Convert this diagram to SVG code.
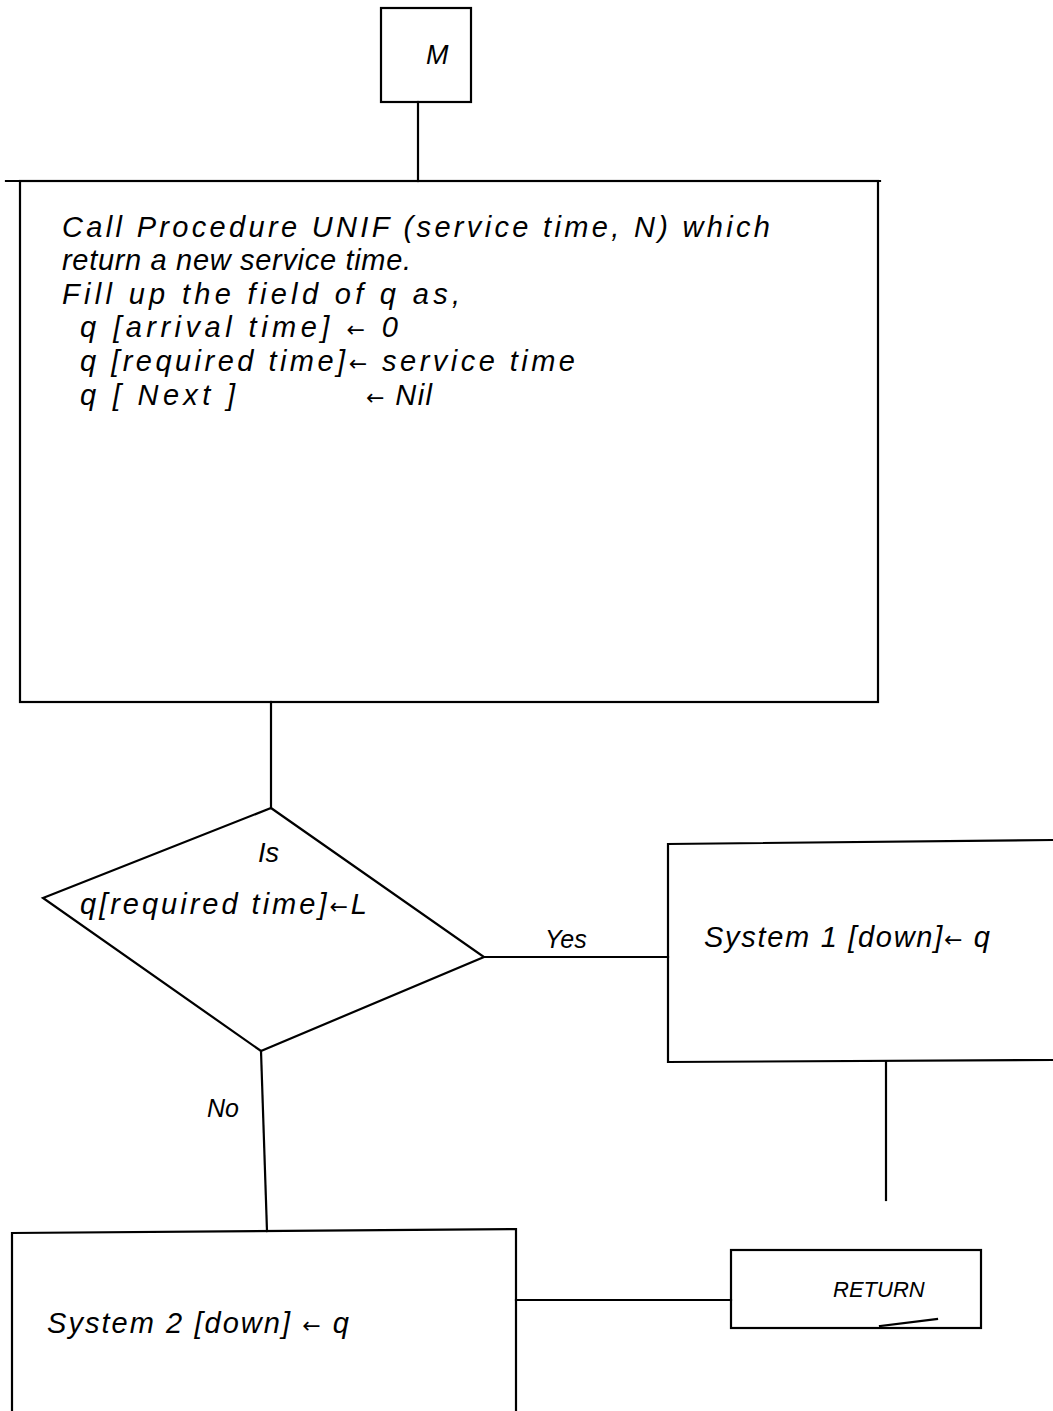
<svg xmlns="http://www.w3.org/2000/svg" width="1053" height="1411" viewBox="0 0 1053 1411">
<style>
.s{fill:none;stroke:#000;stroke-width:2.2;stroke-linecap:square}
.t{font-family:"Liberation Sans","DejaVu Sans",sans-serif;font-style:italic;font-size:29px;fill:#000}
.a{font-family:"DejaVu Sans",sans-serif;font-style:normal;font-size:22px}
</style>
<rect width="1053" height="1411" fill="#fff"/>
<g id="connectors">
<line class="s" x1="418" y1="102" x2="418" y2="181"/>
<line class="s" x1="271" y1="702" x2="271" y2="808"/>
<line class="s" x1="484" y1="957" x2="668" y2="957"/>
<line class="s" x1="261" y1="1051" x2="267" y2="1231"/>
<line class="s" x1="886" y1="1062" x2="886" y2="1200"/>
<line class="s" x1="516" y1="1300" x2="731" y2="1300"/>
<text class="t" x="545" y="948" style="font-size:25px">Yes</text>
<text class="t" x="207" y="1117" style="font-size:25px">No</text>
</g>
<g id="node-M">
<rect class="s" x="381" y="8" width="90" height="94"/>
<text class="t" x="426" y="64" style="font-size:27px">M</text>
</g>
<g id="node-proc">
<line class="s" x1="6" y1="181" x2="880" y2="181"/>
<rect class="s" x="20" y="181" width="858" height="521"/>
<text class="t" x="62" y="237" textLength="708">Call Procedure  UNIF (service time, N) which</text>
<text class="t" x="62" y="270" textLength="349">return a new service time.</text>
<text class="t" x="62" y="304" textLength="398">Fill up the field of q as,</text>
<text class="t" x="80" y="337" textLength="318">q [arrival time] <tspan class="a">←</tspan> 0</text>
<text class="t" x="80" y="371" textLength="495">q [required time]<tspan class="a">←</tspan> service time</text>
<text class="t" x="80" y="405" textLength="155">q [ Next ]</text>
<text class="t" x="366" y="405" textLength="66"><tspan class="a">←</tspan> Nil</text>
</g>
<g id="node-decision">
<polygon class="s" points="271,808 484,957 261,1051 43,898"/>
<text class="t" x="258" y="862" style="font-size:27px">Is</text>
<text class="t" x="80" y="914" textLength="287">q[required time]<tspan class="a">←</tspan>L</text>
</g>
<g id="node-sys1">
<path class="s" d="M1053,840 L668,844 L668,1062 L1053,1060"/>
<text class="t" x="704" y="947" textLength="286">System 1  [down]<tspan class="a">←</tspan> q</text>
</g>
<g id="node-return">
<rect class="s" x="731" y="1250" width="250" height="78"/>
<path class="s" d="M880,1326 L937,1319" stroke-width="1.6"/>
<text class="t" x="833" y="1297" style="font-size:22px">RETURN</text>
</g>
<g id="node-sys2">
<path class="s" d="M12,1411 L12,1233 L516,1229 L516,1411"/>
<text class="t" x="47" y="1333" textLength="302">System 2  [down]  <tspan class="a">←</tspan> q</text>
</g>
</svg>
